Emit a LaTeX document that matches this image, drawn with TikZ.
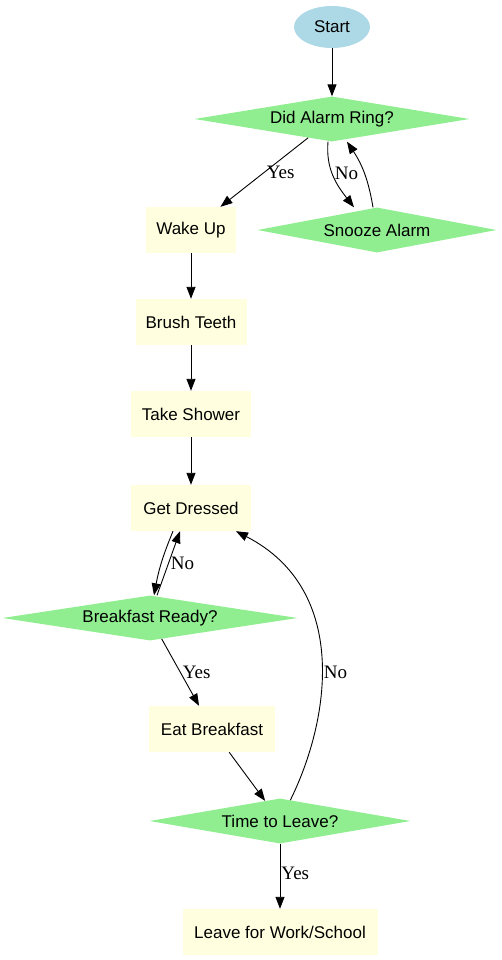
\documentclass[tikz,border=0pt]{standalone}
\usepackage{fontspec}
\setmainfont{Liberation Serif}
\newfontfamily\nodefont{Liberation Sans}
\usepackage{xcolor}
\usetikzlibrary{positioning,arrows.meta,shapes.geometric,calc}
\definecolor{StartBlue}{HTML}{ADD8E6}
\definecolor{DecisionGreen}{HTML}{90EE90}
\definecolor{StepYellow}{HTML}{FFFFE0}

\begin{document}
\begin{tikzpicture}[x=1pt, y=1pt,
    every node/.style={font=\nodefont\fontsize{17}{19}\selectfont},
    startnode/.style={ellipse, fill=StartBlue, minimum width=76pt, minimum height=42pt,
      inner sep=0pt},
    decision/.style={diamond, fill=DecisionGreen, aspect=6, inner sep=0pt,
      minimum height=45pt},
    stepbox/.style={rectangle, fill=StepYellow, minimum height=46pt, inner xsep=2pt},
    line/.style={draw=black, line width=0.9pt, -{Triangle[length=12pt,width=9pt]}},
    lbl/.style={right, inner sep=2pt, font=\rmfamily\fontsize{19}{21}\selectfont}]
  \useasboundingbox (0,0) rectangle (501,-960);

  % nodes
  \node[startnode] (start) at (332,-27) {Start};
  \node[decision, minimum width=275pt] (alarm) at (332,-119) {Did Alarm Ring?};
  \node[decision, minimum width=239pt] (snooze) at (377,-230) {Snooze Alarm};
  \node[stepbox, minimum width=90pt] (wakeup) at (191,-230) {Wake Up};
  \node[stepbox, minimum width=111pt] (brush) at (191,-322) {Brush Teeth};
  \node[stepbox, minimum width=120pt] (shower) at (191,-414) {Take Shower};
  \node[stepbox, minimum width=120pt] (dressed) at (191,-508) {Get Dressed};
  \node[decision, minimum width=295pt] (breakfast) at (150,-618) {Breakfast Ready?};
  \node[stepbox, minimum width=126pt] (eat) at (212,-729) {Eat Breakfast};
  \node[decision, minimum width=261pt] (leavetime) at (280,-821) {Time to Leave?};
  \node[stepbox, minimum width=195pt] (leave) at (280,-932) {Leave for Work/School};

  % plain steps
  \foreach \a/\b in {start/alarm, wakeup/brush, brush/shower, shower/dressed, eat/leavetime}
    \draw[line] (\a) -- (\b);

  % alarm loop
  \draw[line] (alarm) -- node[lbl, pos=0.5] {Yes} (wakeup);
  \draw[line] ([xshift=-4pt]alarm.south) to[out=-95, in=128]
    node[lbl, pos=0.45] {No} ([xshift=-23pt]snooze.north);
  \draw[line] ([xshift=-4pt]snooze.north) to[bend right=12] ([xshift=15pt]alarm.south);

  % breakfast loop
  \draw[line] ([xshift=-18pt]dressed.south) to[bend right=6] ([xshift=4pt]breakfast.north);
  \draw[line] ([xshift=7pt]breakfast.north) -- node[lbl, pos=0.5] {No} ([xshift=-11pt]dressed.south);
  \draw[line] (breakfast) -- node[lbl, pos=0.5] {Yes} (eat);

  % leave or go back
  \draw[line] (leavetime) .. controls (330,-720) and (350,-590) .. node[lbl, pos=0.45] {No} (dressed);
  \draw[line] (leavetime) -- node[lbl, pos=0.45, inner sep=1pt] {Yes} (leave);
\end{tikzpicture}
\end{document}
